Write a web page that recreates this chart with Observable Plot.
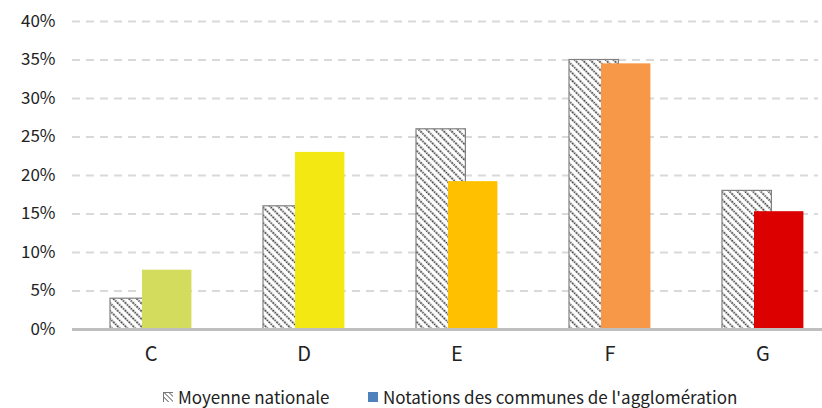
<!DOCTYPE html>
<html><head><meta charset="utf-8">
<script src="https://cdn.jsdelivr.net/npm/d3@7"></script>
<script src="https://cdn.jsdelivr.net/npm/@observablehq/plot@0.6"></script>
<style>
body{margin:0;background:#fff;font-family:"Noto Sans CJK KR","Noto Sans",sans-serif;}
#legend{position:relative;height:33px;font-size:17px;color:#222;overflow:visible;}
.item{position:absolute;top:12px;display:flex;align-items:center;line-height:20px;height:20px;}
.sw{width:10px;height:10px;margin-right:5px;}
</style></head>
<body>
<div id="chart"></div>
<div id="legend">
  <div class="item" style="left:163px"><svg class="sw" width="11" height="11"><defs><pattern id="hl" width="3.5" height="3.5" patternUnits="userSpaceOnUse" patternTransform="rotate(-45)"><rect width="3.5" height="3.5" fill="#fff"/><line x1="0" y1="0" x2="0" y2="3.5" stroke="#555" stroke-width="1.6"/></pattern></defs><rect x="0.5" y="0.5" width="10" height="10" fill="url(#hl)" stroke="#777"/></svg><span id="l1"></span></div>
  <div class="item" style="left:368px"><div class="sw" style="background:#4f81bd"></div><span id="l2"></span></div>
</div>
<script>
const categories = ["C","D","E","F","G"];
const nationale = [4, 16, 26, 35, 18];
const agglo = [7.7, 23.0, 19.2, 34.5, 15.3];
const colors = ["#d3dc5d","#f4e812","#ffc000","#f79848","#dc0000"];
const yTicks = [0,5,10,15,20,25,30,35,40];
const seriesNames = ["Moyenne nationale","Notations des communes de l'agglomération"];

document.getElementById("l1").textContent = seriesNames[0];
document.getElementById("l2").textContent = seriesNames[1];

const natData = categories.map((c,i)=>({cat:c, v:nationale[i]}));
const aggData = categories.map((c,i)=>({cat:c, v:agglo[i], col:colors[i]}));

const chart = Plot.plot({
  width: 822,
  height: 375,
  marginLeft: 72,
  marginRight: 0,
  marginTop: 21,
  marginBottom: 46,
  style: {fontFamily: '"Noto Sans CJK KR","Noto Sans",sans-serif', fontSize: "17px", color: "#222"},
  x: {domain: categories, range: [72, 840], padding: 0, label: null},
  y: {domain: [0, 40], label: null},
  marks: [
    Plot.ruleY(yTicks.filter(d=>d>0), {stroke:"#d9d9d9", strokeWidth:2, strokeDasharray:"8,6", insetRight:4}),
    Plot.barY(natData, {x:"cat", y:"v", fill:"url(#hatch)", stroke:"#808080", strokeWidth:1.2, insetLeft:36, insetRight:67.6}),
    Plot.barY(aggData, {x:"cat", y:"v", fill:"col", insetLeft:68, insetRight:35.6}),
    Plot.ruleY([0], {stroke:"#bfbfbf", strokeWidth:3}),
    Plot.axisY({ticks: yTicks, tickSize:0, tickPadding:17, tickFormat: d=>d+"%", fontSize:17}),
    Plot.axisX({tickSize:0, tickPadding:17, fontSize:20})
  ]
});
const ns="http://www.w3.org/2000/svg";
const defs=document.createElementNS(ns,"defs");
defs.innerHTML='<pattern id="hatch" width="5.5" height="5.5" patternUnits="userSpaceOnUse" patternTransform="rotate(-45)"><rect width="5.5" height="5.5" fill="#fff"/><line x1="1" y1="0" x2="1" y2="5.5" stroke="#444" stroke-width="2" stroke-dasharray="1.4,1.1"/></pattern>';
chart.insertBefore(defs, chart.firstChild);
document.getElementById("chart").appendChild(chart);
</script>
</body></html>
